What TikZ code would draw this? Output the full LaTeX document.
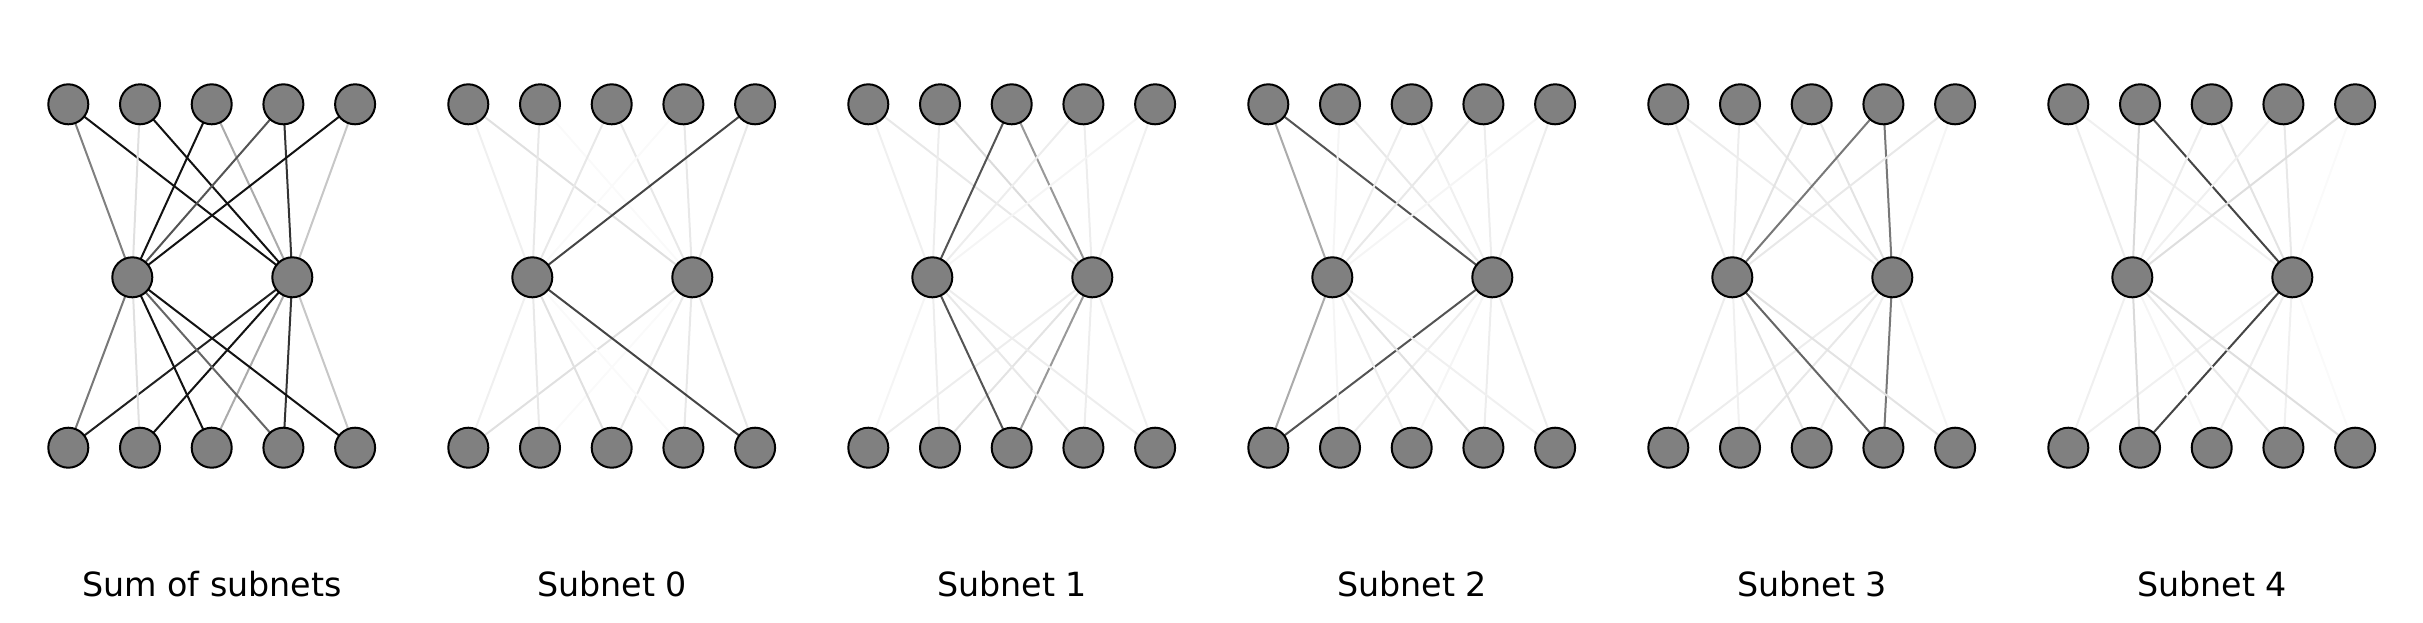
\documentclass[tikz,border=0pt]{standalone}
\usepackage{fontspec}
\setmainfont{DejaVu Sans}
\pgfdeclarelayer{bg}
\pgfsetlayers{bg,main}
\tikzset{
  neuron/.style={circle, draw=black, fill=black!50, line width=2pt, minimum size=40pt, inner sep=0pt, outer sep=0pt},
  edge/.style={line width=2pt},
  lab/.style={anchor=base, inner sep=0pt, font=\fontsize{33.3}{40}\selectfont}
}
\newcommand\drawpanel[3]{%
  \begin{pgfonlayer}{bg}
  \foreach \v [count=\n from 0] in {#2}{
    \pgfmathtruncatemacro\ii{floor(\n/2)}
    \pgfmathtruncatemacro\jj{mod(\n,2)}
    \draw[edge, draw=black!\v] (t#1-\ii.center) -- (m#1-\jj.center);
  }
  \foreach \v [count=\n from 0] in {#3}{
    \pgfmathtruncatemacro\kk{floor(\n/2)}
    \pgfmathtruncatemacro\jj{mod(\n,2)}
    \draw[edge, draw=black!\v] (m#1-\jj.center) -- (b#1-\kk.center);
  }
  \end{pgfonlayer}
}
\begin{document}
\begin{tikzpicture}[x=1pt,y=1pt]
\useasboundingbox (0,0) rectangle (2423,-622);
\foreach \p/\lab in {0/Sum of subnets,1/Subnet 0,2/Subnet 1,3/Subnet 2,4/Subnet 3,5/Subnet 4}{
  \foreach \i in {0,...,4}{
    \node[neuron] (t\p-\i) at ({68.3+400*\p+71.7*\i}, -104.3) {};
    \node[neuron] (b\p-\i) at ({68.3+400*\p+71.7*\i}, -447.7) {};
  }
  \node[neuron] (m\p-0) at ({132.3+400*\p}, -277.3) {};
  \node[neuron] (m\p-1) at ({292.3+400*\p}, -277.3) {};
  \node[lab] (l\p) at ({212+400*\p}, -596) {\lab};
}
% panel: top edges (T0M0,T0M1,T1M0,...), bottom edges (B0M0,B0M1,B1M0,...)
\drawpanel{0}{50,93,12,93,93,33,67,80,93,22}{53,87,12,93,93,33,60,80,93,22}
\drawpanel{1}{6,12,9,2,9,9,2,9,73,9}{6,12,9,2,12,9,2,9,73,9}
\drawpanel{2}{6,9,7,14,67,40,7,7,4,6}{4,7,7,11,67,40,9,7,7,6}
\drawpanel{3}{33,67,4,9,7,6,9,7,4,7}{33,67,4,7,7,4,12,7,6,7}
\drawpanel{4}{7,7,7,9,11,11,53,53,9,4}{7,7,6,9,11,7,60,53,11,4}
\drawpanel{5}{7,6,15,73,7,11,6,9,13,2}{6,6,15,73,4,7,9,6,13,2}
\end{tikzpicture}
\end{document}
